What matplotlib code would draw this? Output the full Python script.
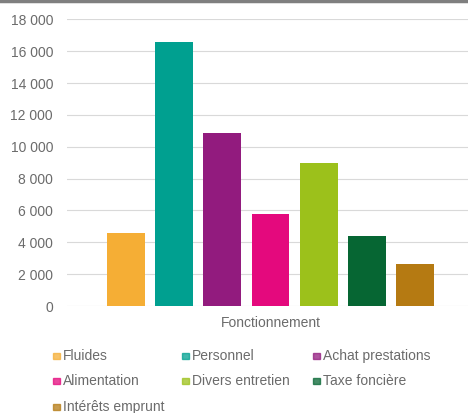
import matplotlib.pyplot as plt
from matplotlib.patches import Rectangle
from matplotlib.lines import Line2D
from matplotlib.ticker import FuncFormatter

plt.rcParams['font.family'] = ['Liberation Sans', 'DejaVu Sans']

categories = ['Fluides', 'Personnel', 'Achat prestations', 'Alimentation',
              'Divers entretien', 'Taxe foncière', 'Intérêts emprunt']
values = [4600, 16600, 10850, 5780, 9000, 4420, 2640]
colors = ['#F5AE35', '#00A090', '#921B7E', '#E4097D', '#9CC11B', '#066633', '#B57A12']
group_label = 'Fonctionnement'
yticks = list(range(0, 18001, 2000))

text_col = '#6b6b6b'
grid_col = '#d9d9d9'
fs = 10

fig = plt.figure(figsize=(4.68, 4.13), dpi=100)
ax = fig.add_axes([0.143, 0.259, 0.870, 0.694])

x = list(range(len(values)))
ax.bar(x, values, width=0.79, color=colors, zorder=3)

ax.set_xlim(-1.235, len(values) - 1 + 1.235)
ax.set_ylim(0, 18000)
ax.set_yticks(yticks)
ax.yaxis.set_major_formatter(FuncFormatter(lambda v, p: f"{int(v):,}".replace(',', ' ')))
ax.grid(axis='y', color=grid_col, linewidth=0.8, zorder=0)
for s in ax.spines.values():
    s.set_visible(False)
ax.tick_params(axis='y', length=0, labelsize=fs, labelcolor=text_col, pad=10)
ax.set_xticks([(len(values) - 1) / 2])
ax.set_xticklabels([group_label])
ax.tick_params(axis='x', length=0, labelsize=fs, labelcolor=text_col, pad=7)

# top border of the frame
fig.add_artist(Line2D([0, 1], [0.997, 0.997], transform=fig.transFigure,
                      color='#7f7f7f', linewidth=2.5))

# legend, laid out row by row like the original
col_x = [53, 182, 313]
row_y = [356, 381, 407]
W, H = 468, 413
for i, (name, c) in enumerate(zip(categories, colors)):
    r, k = divmod(i, 3)
    px, py = col_x[k], row_y[r]
    fig.add_artist(Rectangle((px / W, 1 - (py + 3) / H), 7 / W, 6 / H,
                             transform=fig.transFigure, color=c, alpha=0.75))
    fig.text((px + 10) / W, 1 - py / H, name, fontsize=fs, color=text_col,
             va='center', ha='left')

fig.savefig('out.png', dpi=100, facecolor='white')
